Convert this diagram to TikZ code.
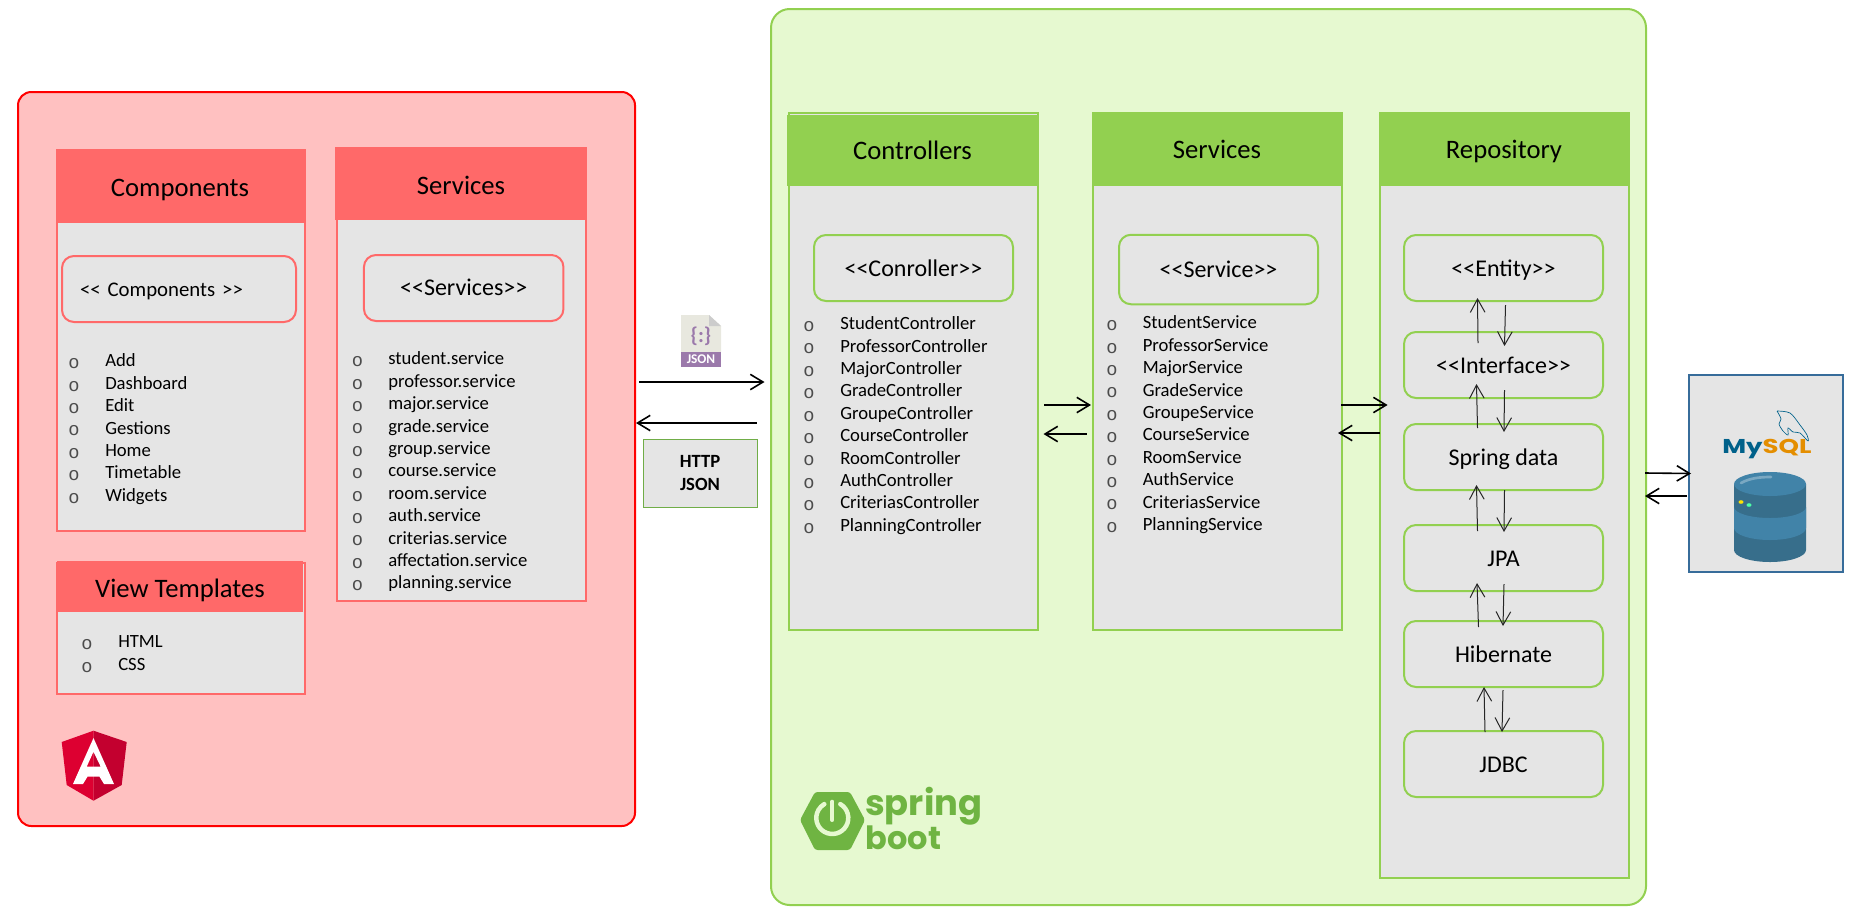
\documentclass[tikz,border=0pt]{standalone}
\usepackage{fontspec}
\setmainfont{Carlito}
\newfontfamily\bulletfont{Liberation Mono}
\newfontfamily\logofont{Poppins}
\newfontfamily\mysqlfont[FakeStretch=1.3]{Poppins}
\usetikzlibrary{arrows.meta}

\definecolor{redbg}{HTML}{FFC1C1}
\definecolor{redhead}{HTML}{FF6969}
\definecolor{greenbg}{HTML}{E6F9D0}
\definecolor{greenhead}{HTML}{92D050}
\definecolor{panel}{HTML}{E5E5E5}
\definecolor{httpframe}{HTML}{70AD47}
\definecolor{dbframe}{HTML}{376C9A}
\definecolor{dblight}{HTML}{4183A8}
\definecolor{dbdark}{HTML}{376E8B}
\definecolor{jsonpage}{HTML}{E8E8DF}
\definecolor{jsonband}{HTML}{9B79AB}
\definecolor{springgreen}{HTML}{6FB442}
\definecolor{mysqlblue}{HTML}{00618A}
\definecolor{mysqlorange}{HTML}{E48E00}
\definecolor{ngleft}{HTML}{DD0031}
\definecolor{ngright}{HTML}{C3002F}
\newcommand{\pxu}{.75pt}

\begin{document}
\begin{tikzpicture}
[x=\pxu,y=-\pxu,%%%%%%%%%%%%%%%%%%%%%%%%%%%%%%
bigbox/.style={rectangle,inner sep=0pt,line width=2*\pxu},
colred/.style={rectangle,inner sep=0pt,fill=panel,draw=redhead,line width=2*\pxu},
colgreen/.style={rectangle,inner sep=0pt,fill=panel,draw=greenhead,line width=2*\pxu},
headred/.style={rectangle,inner sep=0pt,fill=redhead,text height=20.5pt,text depth=4.3pt,font=\fontsize{20}{24}\selectfont},
headgreen/.style={rectangle,inner sep=0pt,fill=greenhead,text height=18pt,text depth=4.5pt,font=\fontsize{20}{24}\selectfont},
innerred/.style={rectangle,rounded corners=9pt,inner sep=0pt,draw=redhead,line width=2*\pxu,minimum height=66*\pxu,text height=15.5pt,text depth=4pt},
innergreen/.style={rectangle,rounded corners=9pt,inner sep=0pt,draw=greenhead,line width=2*\pxu,minimum width=199*\pxu,minimum height=66*\pxu,text height=16pt,text depth=4pt,font=\fontsize{18}{22}\selectfont},
bul/.style={inner sep=0pt,text=black!70,font=\bulletfont\fontsize{14}{16}\selectfont},
item/.style={anchor=mid west,inner sep=0pt,font=\fontsize{14}{16}\selectfont},
bigarr/.style={-{Straight Barb[length=9.5pt,width=11.5pt]},line width=1.6*\pxu},
thinarr/.style={-{Straight Barb[length=10pt,width=11pt]},line width=1*\pxu,black!85},
]%%%%%%%%%%%%%%%%%%%%%%%%%%%%%%

% angular side
\node[bigbox,fill=redbg,draw=red,rounded corners=10pt,minimum width=617*\pxu,minimum height=734*\pxu] (angular) at (326.5,459){};

\node[colred,minimum width=248.5*\pxu,minimum height=381*\pxu] (comp) at (181.2,340.5){};
\node[headred,minimum width=248*\pxu,minimum height=74*\pxu] (comphead) at (180,186){Components};
\node[innerred,minimum width=234*\pxu,text width=148.5pt,inner xsep=13.5pt,align=left,font=\fontsize{15.6}{20}\selectfont] (compinner) at (179,289){<{}< Components >{}>};

\node[colred,minimum width=249*\pxu,minimum height=451*\pxu] (serv) at (461.5,375.5){};
\node[headred,minimum width=252*\pxu,minimum height=73*\pxu] (servhead) at (461,183.5){Services};
\node[innerred,minimum width=199.5*\pxu,text height=16pt,text depth=4.5pt,font=\fontsize{18}{22}\selectfont] (servinner) at (463.7,288){<{}<Services>{}>};

\node[colred,minimum width=248*\pxu,minimum height=131*\pxu] (view) at (181,628.5){};
\node[headred,minimum width=246*\pxu,minimum height=51*\pxu] (viewhead) at (180,586.5){View Templates};

\foreach \name [count=\i] in {Add,Dashboard,Edit,Gestions,Home,Timetable,Widgets}{
\node[bul] (compb\i) at ({74},{341.4+22.4*\i}){o};
\node[item] (compi\i) at ({105},{341.4+22.4*\i}){\name};
}
\foreach \name [count=\i] in {student,professor,major,grade,group,course,room,auth,criterias,affectation,planning}{
\node[bul] (servb\i) at ({357.5},{339.4+22.4*\i}){o};
\node[item] (servi\i) at ({388},{339.4+22.4*\i}){\name.service};
}
\foreach \name [count=\i] in {HTML,CSS}{
\node[bul] (viewb\i) at ({87},{621.3+23*\i}){o};
\node[item] (viewi\i) at ({118},{621.3+23*\i}){\name};
}

% angular logo
\fill[ngleft] (93.5,730.7) -- (61.7,742) -- (66.7,785) -- (93.5,800.7) -- cycle;
\fill[ngright] (93.5,730.7) -- (126.7,742) -- (121.7,785) -- (93.5,800.7) -- cycle;
\fill[white,even odd rule] (93.5,738) -- (73,784) -- (83,784) -- (87.5,776.7) -- (99.5,776.7) -- (104,784) -- (114,784) -- cycle
(93.5,751.7) -- (86.7,766.7) -- (100.7,766.7) -- cycle;

% spring side
\node[bigbox,fill=greenbg,draw=greenhead,rounded corners=14pt,minimum width=875*\pxu,minimum height=896*\pxu] (backend) at (1208.5,457){};

\node[colgreen,minimum width=249*\pxu,minimum height=517*\pxu] (ctl) at (913.5,371.5){};
\node[headgreen,minimum width=251*\pxu,minimum height=71*\pxu] (ctlhead) at (912.5,150.5){Controllers};
\node[innergreen] (ctlinner) at (913.5,268){<{}<Conroller>{}>};

\node[colgreen,minimum width=249*\pxu,minimum height=517*\pxu] (svc) at (1217.5,371.5){};
\node[headgreen,minimum width=250*\pxu,minimum height=74*\pxu] (svchead) at (1217,149){Services};
\node[innergreen,minimum height=69.5*\pxu] (svcinner) at (1218.5,269.5){<{}<Service>{}>};

\node[colgreen,minimum width=249*\pxu,minimum height=765*\pxu] (repo) at (1504.5,495.5){};
\node[headgreen,minimum width=250*\pxu,minimum height=74*\pxu] (repohead) at (1504,149){Repository};

\node[innergreen] (entity) at (1503.5,268){<{}<Entity>{}>};
\node[innergreen] (intf) at (1503.5,365){<{}<Interface>{}>};
\node[innergreen] (sdata) at (1503.5,457){Spring data};
\node[innergreen] (jpa) at (1503.5,558){JPA};
\node[innergreen] (hib) at (1503.5,654){Hibernate};
\node[innergreen] (jdbc) at (1503.5,764){JDBC};

\foreach \name [count=\i] in {Student,Professor,Major,Grade,Groupe,Course,Room,Auth,Criterias,Planning}{
\node[bul] (ctlb\i) at ({809},{304.1+22.4*\i}){o};
\node[item] (ctli\i) at ({840},{304.1+22.4*\i}){\name Controller};
\node[bul] (svcb\i) at ({1112},{303.3+22.4*\i}){o};
\node[item] (svci\i) at ({1142.5},{303.3+22.4*\i}){\name Service};
}

% spring logo
\fill[springgreen,rounded corners=2pt] (800,820) -- (815,792) -- (850,792) -- (865,820) -- (850,850) -- (815,850) -- cycle;
\draw[greenbg,line width=4.5*\pxu,line cap=round] (840.3,804.1) arc[start angle=-60,end angle=240,radius=16];
\draw[greenbg,line width=4*\pxu,line cap=round] (832.3,801.7) -- (832.3,820);
\node[anchor=base west,inner sep=0pt,text=springgreen,font=\logofont\bfseries\fontsize{26.5}{30}\selectfont] (springtxt) at (865,815){spring};
\node[anchor=base west,inner sep=0pt,text=springgreen,font=\logofont\bfseries\fontsize{24}{26}\selectfont] (boottxt) at (865.5,849){boot};

% json icon
\fill[jsonpage] (681,315) -- (709,315) -- (721,326) -- (721,352) -- (681,352) -- cycle;
\fill[black!20] (709,315) -- (721,326) -- (709,326) -- cycle;
\fill[jsonband] (681,352) rectangle (721,367);
\node[inner sep=0pt,text=jsonband,font=\fontsize{16}{18}\selectfont\bfseries] (jsonbrace) at (701,336){\{:\}};
\node[inner sep=0pt,text=white,font=\fontsize{10}{11}\selectfont\bfseries] (jsonword) at (701,359.5){JSON};

\node[rectangle,fill=panel,draw=httpframe,line width=1*\pxu,minimum width=114*\pxu,minimum height=68*\pxu,align=center,font=\fontsize{14}{17.2}\selectfont\bfseries] (http) at (700,473){HTTP\\JSON};

% database
\node[rectangle,inner sep=0pt,fill=panel,draw=dbframe,line width=2*\pxu,minimum width=154*\pxu,minimum height=197*\pxu] (db) at (1766,473.5){};
\node[anchor=base west,inner sep=0pt,font=\mysqlfont\bfseries\fontsize{15}{18}\selectfont] (mysql) at (1722,453){\textcolor{mysqlblue}{My}\textcolor{mysqlorange}{SQL}};
\draw[mysqlblue,line width=.5pt] plot[smooth] coordinates {(1777,411) (1790,413) (1800,425) (1807,435) (1808,441) (1800,433) (1793,432) (1788,428) (1788,435) (1783,431) (1779,424) (1781,419) (1777,411)};

\fill[dbdark] (1734,484) -- (1734,550) arc[start angle=180,end angle=0,x radius=36,y radius=12] -- (1806,484) -- cycle;
\fill[dblight] (1734,507) arc[start angle=180,end angle=0,x radius=36,y radius=11] -- (1806,528) arc[start angle=0,end angle=180,x radius=36,y radius=12] -- cycle;
\fill[dblight] (1770,484) ellipse[x radius=36,y radius=12];
\draw[dblight!70!white,line width=2pt,line cap=round] (1741,483) .. controls (1750,478) and (1760,477) .. (1771,477);
\fill[yellow!85!orange] (1741,502) ellipse[x radius=2.5,y radius=1.8];
\fill[green!50!cyan!70!white] (1749,505) ellipse[x radius=2.5,y radius=1.8];

% arrows
\draw[bigarr] ([shift={(3,-77)}]angular.east) -- ([shift={(-5.5,-75)}]backend.west);
\draw[bigarr] ([shift={(-13.5,-34)}]backend.west) -- ([shift={(0,-36)}]angular.east);

\draw[bigarr] ([shift={(5,33.5)}]ctl.east) -- ([shift={(-1,33.5)}]svc.west);
\draw[bigarr] ([shift={(-5.5,62.5)}]svc.west) -- ([shift={(4.5,62.5)}]ctl.east);
\draw[bigarr] ([shift={(-2,33.5)}]svc.east) -- ([shift={(8.6,-90.5)}]repo.west);
\draw[bigarr] ([shift={(1,-62.5)}]repo.west) -- ([shift={(-5,61.5)}]svc.east);
\draw[bigarr] ([shift={(-2,16)}]backend.east) -- ([shift={(3,0)}]db.west);
\draw[bigarr] ([shift={(-1,22.5)}]db.west) -- ([shift={(-2,39)}]backend.east);

\draw[thinarr] ([shift={(-25.5,12)}]intf.north) -- ([shift={(-26,-4)}]entity.south);
\draw[thinarr] ([shift={(2,3)}]entity.south) -- ([shift={(1,15)}]intf.north);
\draw[thinarr] ([shift={(-26,5)}]sdata.north) -- ([shift={(-27,-15)}]intf.south);
\draw[thinarr] ([shift={(1,-9)}]intf.south) -- ([shift={(.5,9)}]sdata.north);
\draw[thinarr] ([shift={(-26,7)}]jpa.north) -- ([shift={(-27,-6)}]sdata.south);
\draw[thinarr] ([shift={(1,-1)}]sdata.south) -- ([shift={(.5,8)}]jpa.north);
\draw[thinarr] ([shift={(-25,7)}]hib.north) -- ([shift={(-26.5,-9)}]jpa.south);
\draw[thinarr] ([shift={(.5,-8)}]jpa.south) -- ([shift={(-.5,6)}]hib.north);
\draw[thinarr] ([shift={(-18.5,2)}]jdbc.north) -- ([shift={(-19.5,-1)}]hib.south);
\draw[thinarr] ([shift={(-.5,2)}]hib.south) -- ([shift={(-1.5,2)}]jdbc.north);

\useasboundingbox (0,0) rectangle (1855,922);
\end{tikzpicture}
\end{document}
